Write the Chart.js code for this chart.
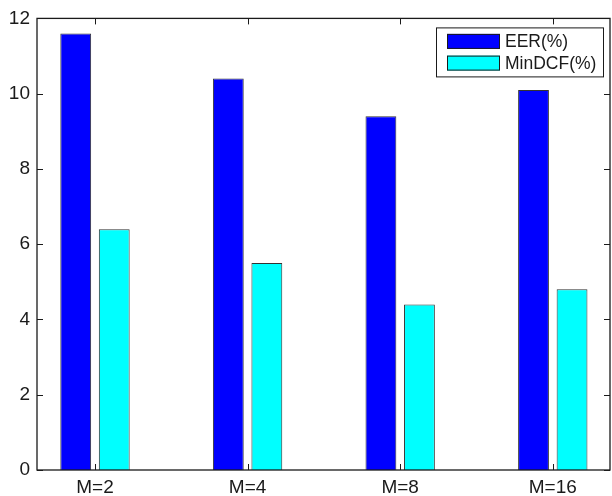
<!DOCTYPE html>
<html>
<head>
<meta charset="utf-8">
<script src="https://cdn.jsdelivr.net/npm/chart.js@4"></script>
<style>
  html, body { margin: 0; padding: 0; background: #fff; }
</style>
</head>
<body>
<canvas id="chart" width="612" height="496"></canvas>
<script>
const categories = ['M=2', 'M=4', 'M=8', 'M=16'];
const eer = [11.6, 10.4, 9.4, 10.1];
const minDcf = [6.4, 5.5, 4.4, 4.8];
const yTicks = [0, 2, 4, 6, 8, 10, 12];

const FONT = "'Liberation Sans', Arial, Helvetica, sans-serif";
const INK = '#1a1a1a';

// matlab style box with ticks pointing inward + legend in the corner
const frame = {
  id: 'frame',
  afterDraw(chart) {
    const ctx = chart.ctx;
    const a = chart.chartArea;
    const xs = chart.scales.x, ys = chart.scales.y;
    const tl = 6;
    ctx.save();
    ctx.strokeStyle = INK;
    ctx.lineWidth = 1.3;
    ctx.strokeRect(a.left, a.top, a.right - a.left, a.bottom - a.top);
    ctx.lineWidth = 1;
    ctx.beginPath();
    yTicks.forEach(v => {
      const y = Math.round(ys.getPixelForValue(v)) + 0.5;
      ctx.moveTo(a.left, y); ctx.lineTo(a.left + tl, y);
      ctx.moveTo(a.right, y); ctx.lineTo(a.right - tl, y);
    });
    categories.forEach((c, i) => {
      const x = Math.round(xs.getPixelForValue(i + 1)) + 0.5;
      ctx.moveTo(x, a.bottom); ctx.lineTo(x, a.bottom - tl);
      ctx.moveTo(x, a.top); ctx.lineTo(x, a.top + tl);
    });
    ctx.stroke();

    // legend
    const bx = a.right - 174, by = a.top + 9, bw = 167, bh = 49;
    ctx.fillStyle = '#fff';
    ctx.fillRect(bx, by, bw, bh);
    ctx.lineWidth = 1;
    ctx.strokeRect(bx + 0.5, by + 0.5, bw, bh);
    ctx.font = '17.5px ' + FONT;
    ctx.textBaseline = 'middle';
    chart.data.datasets.forEach((ds, i) => {
      const cy = by + 14 + i * 21.7;
      ctx.fillStyle = ds.backgroundColor;
      ctx.fillRect(bx + 11, cy - 7.5, 53, 15);
      ctx.strokeStyle = INK;
      ctx.strokeRect(bx + 11.5, cy - 7, 52, 14);
      ctx.fillStyle = INK;
      ctx.fillText(ds.label, bx + 69, cy + 1);
    });
    ctx.restore();
  }
};

new Chart(document.getElementById('chart'), {
  type: 'bar',
  data: {
    datasets: [
      {
        label: 'EER(%)',
        data: eer.map((v, i) => ({ x: i + 1, y: v })),
        backgroundColor: '#0000ff',
        borderColor: '#333',
        borderWidth: 1
      },
      {
        label: 'MinDCF(%)',
        data: minDcf.map((v, i) => ({ x: i + 1, y: v })),
        backgroundColor: '#00ffff',
        borderColor: '#333',
        borderWidth: 1
      }
    ]
  },
  options: {
    responsive: false,
    animation: false,
    categoryPercentage: 0.505,
    barPercentage: 0.8,
    layout: { padding: { top: 16, right: 2, left: 0, bottom: 0 } },
    plugins: {
      legend: { display: false },
      tooltip: { enabled: false }
    },
    scales: {
      x: {
        type: 'linear',
        offset: false,
        min: 0.62,
        max: 4.375,
        grid: { display: false, drawTicks: false, offset: false },
        border: { display: false },
        afterBuildTicks: s => { s.ticks = categories.map((c, i) => ({ value: i + 1 })); },
        afterFit: s => { s.height = 26; },
        ticks: {
          padding: 6,
          autoSkip: false,
          maxRotation: 0,
          color: INK,
          font: { family: FONT, size: 19 },
          callback: v => categories[v - 1]
        }
      },
      y: {
        min: 0,
        max: 12,
        grid: { display: false, drawTicks: false },
        border: { display: false },
        afterBuildTicks: s => { s.ticks = yTicks.map(v => ({ value: v })); },
        afterFit: s => { s.width = 37; },
        ticks: {
          padding: 7,
          color: INK,
          font: { family: FONT, size: 19 }
        }
      }
    }
  },
  plugins: [frame]
});
</script>
</body>
</html>
